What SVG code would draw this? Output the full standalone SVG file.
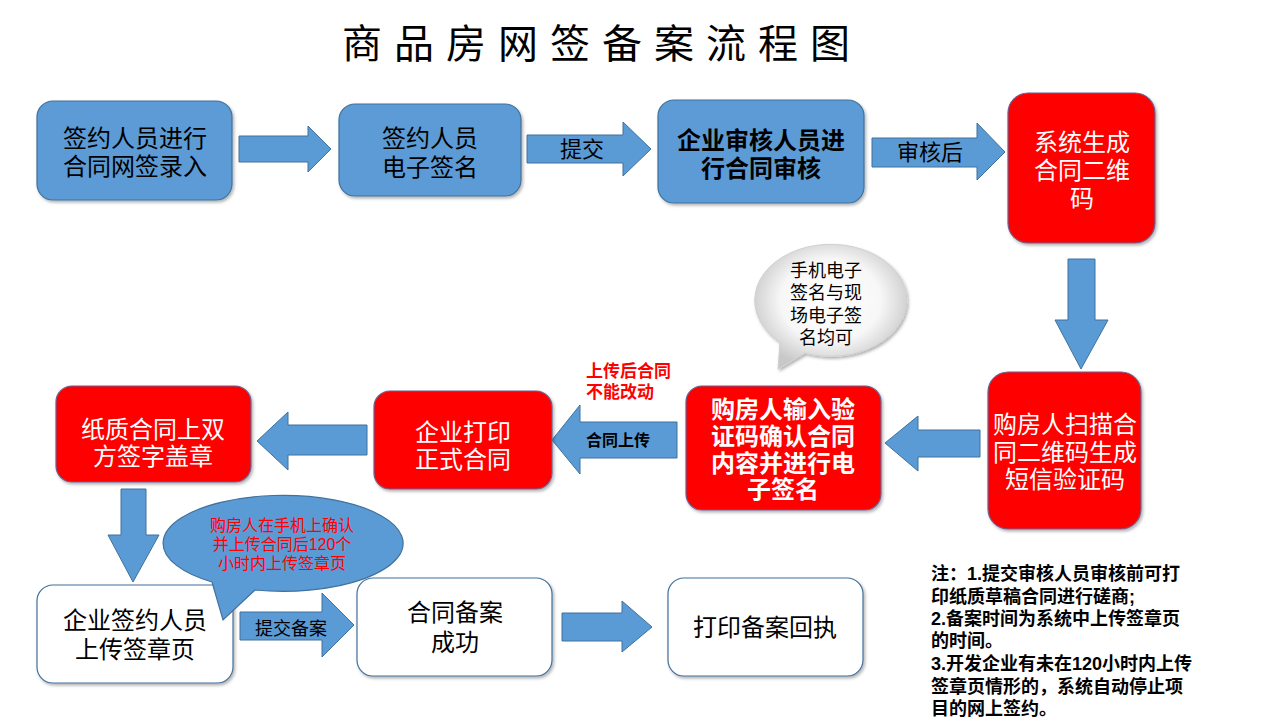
<svg xmlns="http://www.w3.org/2000/svg" width="1280" height="720" viewBox="0 0 1280 720">
<defs>
<filter id="sh" x="-10%" y="-10%" width="130%" height="130%"><feDropShadow dx="1.5" dy="2" stdDeviation="1.5" flood-color="#000" flood-opacity="0.3"/></filter>
<radialGradient id="bub" cx="0.5" cy="0.45" r="0.55"><stop offset="0" stop-color="#ffffff"/><stop offset="0.6" stop-color="#f7f7f7"/><stop offset="1" stop-color="#c8c8c8"/></radialGradient>
<style>
text{font-family:"Liberation Sans","Noto Sans CJK SC",sans-serif;}
.blue{fill:#5B9BD5;stroke:#41719C;stroke-width:1.2;filter:url(#sh);}
.red{fill:#FF0000;stroke:#6F5F8F;stroke-width:1.2;filter:url(#sh);}
.white{fill:#FFFFFF;stroke:#41719C;stroke-width:1.2;filter:url(#sh);}
.arr{fill:#5B9BD5;stroke:#41719C;stroke-width:1;}
.t24{font-size:24px;text-anchor:middle;fill:#000;}
.w24{font-size:24px;text-anchor:middle;fill:#fff;}
.b{font-weight:bold;}
.note{font-size:18px;font-weight:bold;fill:#000;}
</style>
</defs>
<rect width="1280" height="720" fill="#fff"/>
<text x="342" y="58" font-size="40" letter-spacing="12" fill="#000">商品房网签备案流程图</text>

<g id="connectors">
<polygon class="arr" points="239,136 308,136 308,126 331,149 308,172 308,162 239,162"/>
<polygon class="arr" points="527,135 623,135 623,122 651,149 623,176 623,163 527,163"/>
<text x="582" y="157" font-size="22" text-anchor="middle" fill="#000">提交</text>
<polygon class="arr" points="872,138 977,138 977,123 1005,152 977,180 977,167 872,167"/>
<text x="930" y="160" font-size="22" text-anchor="middle" fill="#000">审核后</text>
<polygon class="arr" points="1068,259 1095,259 1095,320 1108,320 1081,369 1055,320 1068,320"/>
<polygon class="arr" points="980,430 918,430 918,416 885,443 918,471 918,457 980,457"/>
<polygon class="arr" points="677,422 580,422 580,405 552,440 580,474 580,458 677,458"/>
<text x="618" y="446" font-size="16" font-weight="bold" text-anchor="middle" fill="#000">合同上传</text>
<polygon class="arr" points="367,425 288,425 288,412 257,441 288,470 288,455 367,455"/>
<polygon class="arr" points="121,489 146,489 146,535 159,535 133,582 108,535 121,535"/>
<polygon class="arr" points="240,612 322,612 322,593 354,625 322,657 322,640 240,640"/>
<text x="291" y="635" font-size="18" text-anchor="middle" fill="#000">提交备案</text>
<polygon class="arr" points="562,613 622,613 622,601 652,627 622,652 622,641 562,641"/>
</g>

<g id="n1"><rect class="blue" x="37" y="101" width="195" height="99" rx="16"/>
<text class="t24" x="135" y="147"><tspan x="135">签约人员进行</tspan><tspan x="135" dy="28">合同网签录入</tspan></text></g>
<g id="n2"><rect class="blue" x="339" y="104" width="182" height="92" rx="16"/>
<text class="t24" x="430" y="147"><tspan x="430">签约人员</tspan><tspan x="430" dy="29">电子签名</tspan></text></g>
<g id="n3"><rect class="blue" x="658" y="100" width="206" height="103" rx="16"/>
<text class="t24 b" x="761" y="149"><tspan x="761">企业审核人员进</tspan><tspan x="761" dy="28">行合同审核</tspan></text></g>
<g id="n4"><rect class="red" x="1008" y="93" width="147" height="150" rx="20"/>
<text class="w24" x="1082" y="151"><tspan x="1082">系统生成</tspan><tspan x="1082" dy="28">合同二维</tspan><tspan x="1082" dy="28">码</tspan></text></g>
<g id="n5"><rect class="red" x="988" y="372" width="153" height="157" rx="20"/>
<text class="w24" x="1065" y="433"><tspan x="1065">购房人扫描合</tspan><tspan x="1065" dy="28">同二维码生成</tspan><tspan x="1065" dy="27">短信验证码</tspan></text></g>
<g id="n6"><rect class="red" x="686" y="386" width="195" height="124" rx="16"/>
<text class="w24 b" x="783" y="418"><tspan x="783">购房人输入验</tspan><tspan x="783" dy="27">证码确认合同</tspan><tspan x="783" dy="27">内容并进行电</tspan><tspan x="783" dy="26">子签名</tspan></text></g>
<g id="n7"><rect class="red" x="374" y="391" width="178" height="98" rx="16"/>
<text class="w24" x="463" y="441"><tspan x="463">企业打印</tspan><tspan x="463" dy="27">正式合同</tspan></text></g>
<g id="n8"><rect class="red" x="56" y="386" width="195" height="96" rx="16"/>
<text class="w24" x="153" y="438"><tspan x="153">纸质合同上双</tspan><tspan x="153" dy="27">方签字盖章</tspan></text></g>
<g id="n9"><rect class="white" x="37" y="585" width="196" height="98" rx="16"/>
<text class="t24" x="135" y="629"><tspan x="135">企业签约人员</tspan><tspan x="135" dy="29">上传签章页</tspan></text></g>
<g id="n10"><rect class="white" x="357" y="578" width="195" height="98" rx="16"/>
<text class="t24" x="455" y="621"><tspan x="455">合同备案</tspan><tspan x="455" dy="30">成功</tspan></text></g>
<g id="n11"><rect class="white" x="668" y="578" width="195" height="98" rx="16"/>
<text class="t24" x="765" y="636">打印备案回执</text></g>

<g id="bubble1"><path d="M805,353 L778,369 L780,342 A76,56 0 1 1 805,353 Z" fill="url(#bub)" stroke="#d0d0d0" stroke-width="1" filter="url(#sh)"/>
<text font-size="18" text-anchor="middle" fill="#000" x="826" y="277"><tspan x="826">手机电子</tspan><tspan x="826" dy="22">签名与现</tspan><tspan x="826" dy="23">场电子签</tspan><tspan x="826" dy="22">名均可</tspan></text></g>

<g id="bubble2"><path d="M255,590 L223,620 L212,582 A120,48 0 1 1 255,590 Z" fill="#5B9BD5" stroke="#41719C" stroke-width="1.2"/>
<text font-size="16" text-anchor="middle" fill="#FF0000" x="282" y="531"><tspan x="282">购房人在手机上确认</tspan><tspan x="282" dy="19">并上传合同后120个</tspan><tspan x="282" dy="19">小时内上传签章页</tspan></text></g>

<g id="label-red"><text font-size="17" font-weight="bold" fill="#FF0000" x="586" y="377"><tspan x="586">上传后合同</tspan><tspan x="586" dy="21">不能改动</tspan></text></g>

<g id="notes"><text class="note" x="931" y="580"><tspan x="931">注：1.提交审核人员审核前可打</tspan><tspan x="931" dy="23">印纸质草稿合同进行磋商;</tspan><tspan x="931" dy="22">2.备案时间为系统中上传签章页</tspan><tspan x="931" dy="22">的时间。</tspan><tspan x="931" dy="23">3.开发企业有未在120小时内上传</tspan><tspan x="931" dy="23">签章页情形的，系统自动停止项</tspan><tspan x="931" dy="22">目的网上签约。</tspan></text></g>
</svg>
